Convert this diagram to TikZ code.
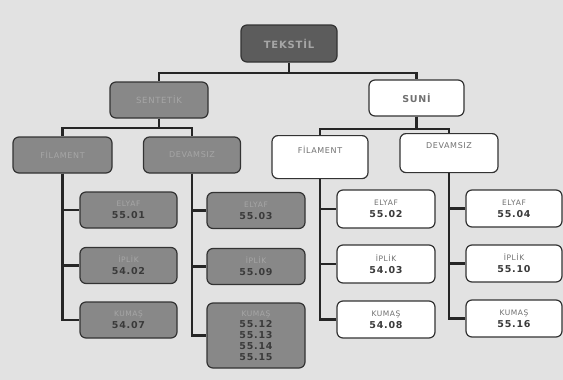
\documentclass[tikz,border=0pt]{standalone}
\usepackage{fontspec}
\setmainfont{DejaVu Sans}[LetterSpace=8]
\definecolor{bgray}{HTML}{E2E2E2}
\definecolor{dbox}{HTML}{5C5C5C}
\definecolor{mbox}{HTML}{888888}
\definecolor{lbl}{HTML}{A6A6A6}
\definecolor{num}{HTML}{3A3A3A}
\definecolor{wtext}{HTML}{707070}
\newcommand{\nr}[1]{{\fontsize{9.5}{10}\selectfont\bfseries\color{num}#1}}
\newcommand{\kword}[1]{{\fontsize{7.5}{10.5}\selectfont #1}}
\tikzset{
  box/.style={draw=black!80, line width=1.2pt, rounded corners=6pt, inner sep=0pt, align=center},
  darkbox/.style={box, fill=dbox, text=lbl},
  greybox/.style={box, fill=mbox, text=lbl},
  whitebox/.style={box, fill=white, text=wtext},
  leaf/.style={minimum width=97pt, minimum height=36pt},
  link/.style={line width=2.2pt, black!85}
}
\begin{document}
\begin{tikzpicture}[x=1pt,y=-1pt]
\fill[bgray] (0,0) rectangle (563,380);
\useasboundingbox (0,0) rectangle (563,380);
% top levels
\node[darkbox, minimum width=96pt, minimum height=37pt, font=\fontsize{10}{11}\selectfont\bfseries] (tek) at (289,43.5) {TEKSTİL};
\node[greybox, minimum width=98pt, minimum height=36pt, font=\fontsize{8.5}{10}\selectfont] (sen) at (159,100) {SENTETİK};
\node[whitebox, minimum width=95pt, minimum height=36pt, font=\fontsize{9.5}{10}\selectfont\bfseries] (suni) at (416.5,98) {SUNİ};
\node[greybox, minimum width=99pt, minimum height=36pt, font=\fontsize{8}{10}\selectfont] (lfil) at (62.5,155) {FİLAMENT};
\node[greybox, minimum width=97pt, minimum height=36pt, font=\fontsize{8}{10}\selectfont] (ldev) at (192,155) {DEVAMSIZ};
\node[whitebox, minimum width=96pt, text height=18pt, text depth=25pt, anchor=north, font=\fontsize{8}{10}\selectfont] (rfil) at (320,135) {FİLAMENT};
\node[whitebox, minimum width=98pt, text height=15pt, text depth=24pt, anchor=north, font=\fontsize{8}{10}\selectfont] (rdev) at (449,133) {DEVAMSIZ};
% leaves
\node[greybox, leaf] (la1) at (128.5,210) {\kword{ELYAF}\\\nr{55.01}};
\node[greybox, leaf] (la2) at (128.5,265.5) {\kword{İPLİK}\\\nr{54.02}};
\node[greybox, leaf] (la3) at (128.5,320) {\kword{KUMAŞ}\\\nr{54.07}};
\node[greybox, leaf, minimum width=98pt] (lb1) at (256,210.5) {\kword{ELYAF}\\\nr{55.03}};
\node[greybox, leaf, minimum width=98pt] (lb2) at (256,266.5) {\kword{İPLİK}\\\nr{55.09}};
\node[greybox, leaf, minimum width=98pt, minimum height=65pt] (lb3) at (256,335.5) {\kword{KUMAŞ}\\[-1pt]\nr{55.12}\\[-1pt]\nr{55.13}\\[-1pt]\nr{55.14}\\[-1pt]\nr{55.15}};
\node[whitebox, leaf, minimum width=98pt, minimum height=38pt] (ra1) at (386,209) {\kword{ELYAF}\\\nr{55.02}};
\node[whitebox, leaf, minimum width=98pt, minimum height=38pt] (ra2) at (386,264) {\kword{İPLİK}\\\nr{54.03}};
\node[whitebox, leaf, minimum width=98pt, minimum height=37pt] (ra3) at (386,319.5) {\kword{KUMAŞ}\\\nr{54.08}};
\node[whitebox, leaf, minimum width=96pt, minimum height=37pt] (rb1) at (514,208.5) {\kword{ELYAF}\\\nr{55.04}};
\node[whitebox, leaf, minimum width=96pt, minimum height=37pt] (rb2) at (514,263.5) {\kword{İPLİK}\\\nr{55.10}};
\node[whitebox, leaf, minimum width=96pt, minimum height=37pt] (rb3) at (514,318.5) {\kword{KUMAŞ}\\\nr{55.16}};
% connectors
\draw[link] (tek.south) -- ++(0,10) -| (sen.north);
\draw[link] (tek.south) -- ++(0,10) -| (suni.north);
\draw[link] (sen.south) -- ++(0,9) -| (lfil.north);
\draw[link] (sen.south) -- ++(0,9) -| (ldev.north);
\draw[link] (suni.south) -- ++(0,12) -| (rfil.north);
\draw[link] (suni.south) -- ++(0,12) -| (rdev.north);
\foreach \i in {1,2,3} {
  \draw[link] (lfil.south) |- (la\i.west);
  \draw[link] (ldev.south) |- (lb\i.west);
  \draw[link] (rfil.south) |- (ra\i.west);
  \draw[link] (rdev.south) |- (rb\i.west);
}
\end{tikzpicture}
\end{document}
